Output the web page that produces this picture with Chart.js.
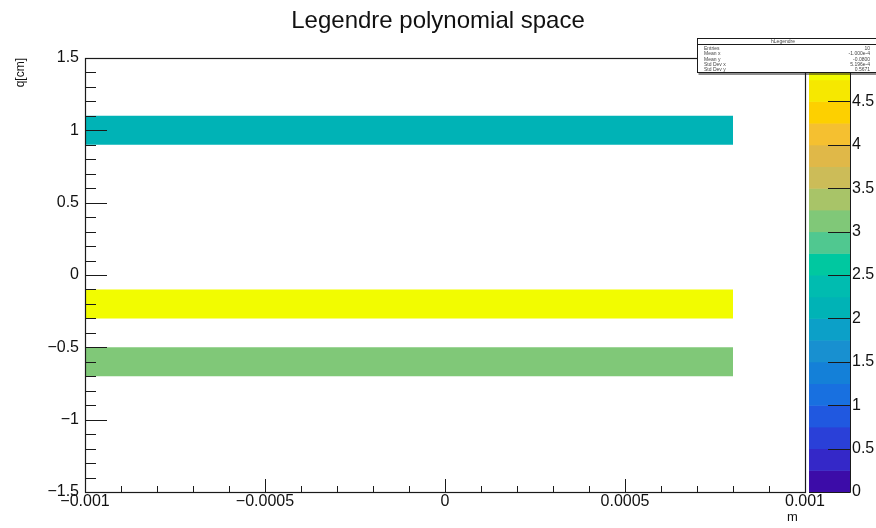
<!DOCTYPE html>
<html>
<head>
<meta charset="utf-8">
<script src="https://cdn.jsdelivr.net/npm/chart.js@4.4.1/dist/chart.umd.min.js"></script>
<style>
  html, body { margin: 0; padding: 0; background: #ffffff; }
  #wrap { width: 876px; height: 528px; }
</style>
</head>
<body>
<div id="wrap"><canvas id="c" width="876" height="528"></canvas></div>
<script>
// Filled q-bins of the 2D histogram (bin edges in q, extent in m, bin content)
const qLow     = [0.9, -0.3, -0.7];
const qHigh    = [1.1, -0.1, -0.5];
const mStart   = [-0.001, -0.001, -0.001];
const mEnd     = [0.0008, 0.0008, 0.0008];
const binContent = [2, 5, 3];

// Axis ranges and labelled ticks
const mRange = [-0.001, 0.001];
const qRange = [-1.5, 1.5];
const zRange = [0, 5];
const mTicks = [-0.001, -0.0005, 0, 0.0005, 0.001];
const qTicks = [-1.5, -1, -0.5, 0, 0.5, 1, 1.5];
const zTicks = [0, 0.5, 1, 1.5, 2, 2.5, 3, 3.5, 4, 4.5, 5];

// Colour palette (20 contour levels, low to high)
const nContours = 20;
const palette = [
  '#3c0ca8', '#3428c8', '#2a40d8', '#2058e0', '#1870e0',
  '#1480d8', '#1890d0', '#0ca0c8', '#00b3b6', '#00bcb0',
  '#00c8a0', '#50c890', '#80c878', '#a8c468', '#ccbc58',
  '#e0b848', '#f5c030', '#fdd000', '#f6e800', '#f2fc00'
];

const FONT = "'Liberation Sans', Arial, Helvetica, sans-serif";

function colourFor(v) {
  const idx = Math.floor(0.01 + (v - zRange[0]) / (zRange[1] - zRange[0]) * nContours);
  return palette[Math.max(0, Math.min(nContours - 1, idx))];
}
function fmt(v) {
  return String(v).replace('-', '\u2212');
}

// Each filled band is a flat line at the upper q edge, filled down to the lower edge
const datasets = qLow.map((lo, i) => ({
  label: 'bin ' + i,
  data: [{ x: mStart[i], y: qHigh[i] }, { x: mEnd[i], y: qHigh[i] }],
  showLine: true,
  fill: { value: lo },
  backgroundColor: colourFor(binContent[i]),
  borderColor: 'rgba(0,0,0,0)',
  borderWidth: 0,
  pointRadius: 0,
  pointHoverRadius: 0,
  tension: 0
}));

// Frame, inner tick marks, colour bar and statistics box
const histPainter = {
  id: 'histPainter',
  afterDatasetsDraw(chart) {
    const ctx = chart.ctx;
    const { left, right, top, bottom } = chart.chartArea;
    const xs = chart.scales.x, ys = chart.scales.y, zs = chart.scales.z;
    ctx.save();
    ctx.strokeStyle = '#1a1a1a';
    ctx.lineWidth = 1;
    ctx.beginPath();
    // q axis: major every 0.5, minor every 0.1
    for (let k = -15; k <= 15; k++) {
      const py = Math.round(ys.getPixelForValue(k / 10)) + 0.5;
      const len = (k % 5 === 0) ? 22 : 11;
      ctx.moveTo(left, py); ctx.lineTo(left + len, py);
    }
    // m axis: major every 0.0005, minor every 0.0001
    for (let k = -10; k <= 10; k++) {
      const px = Math.round(xs.getPixelForValue(k / 10000)) + 0.5;
      const len = (k % 5 === 0) ? 13 : 6;
      ctx.moveTo(px, bottom); ctx.lineTo(px, bottom - len);
    }
    ctx.stroke();
    ctx.lineWidth = 1.2;
    ctx.strokeRect(Math.round(left) + 0.5, Math.round(top) + 0.5,
                   Math.round(right - left), Math.round(bottom - top));

    // colour bar
    const barL = right + 4, barR = right + 45;
    for (let i = 0; i < nContours; i++) {
      const z0 = zRange[0] + (zRange[1] - zRange[0]) * i / nContours;
      const z1 = zRange[0] + (zRange[1] - zRange[0]) * (i + 1) / nContours;
      const y0 = zs.getPixelForValue(z0), y1 = zs.getPixelForValue(z1);
      ctx.fillStyle = palette[i];
      ctx.fillRect(barL, y1, barR - barL, y0 - y1 + 0.5);
    }
    ctx.lineWidth = 1;
    ctx.strokeStyle = '#1a1a1a';
    ctx.beginPath();
    ctx.moveTo(barR + 0.5, zs.getPixelForValue(zRange[1]));
    ctx.lineTo(barR + 0.5, zs.getPixelForValue(zRange[0]) + 0.5);
    ctx.lineTo(barL, zs.getPixelForValue(zRange[0]) + 0.5);
    zTicks.forEach(v => {
      const py = Math.round(zs.getPixelForValue(v)) + 0.5;
      ctx.moveTo(barR, py); ctx.lineTo(barR - 22, py);
    });
    ctx.stroke();
    ctx.restore();
  },
  afterDraw(chart) {
    const ctx = chart.ctx;
    // statistics box
    let sw = 0, sx = 0, sy = 0, sxx = 0, syy = 0;
    binContent.forEach((w, i) => {
      const cx = (mStart[i] + mEnd[i]) / 2, cy = (qLow[i] + qHigh[i]) / 2;
      const hw = mEnd[i] - mStart[i];
      sw += w; sx += w * cx; sy += w * cy;
      sxx += w * (cx * cx + hw * hw / 12); syy += w * cy * cy;
    });
    const mx = sx / sw, my = sy / sw;
    const rows = [
      ['Entries', String(sw)],
      ['Mean x', mx.toExponential(3)],
      ['Mean y', my.toFixed(4)],
      ['Std Dev x', Math.sqrt(sxx / sw - mx * mx).toExponential(3)],
      ['Std Dev y', Math.sqrt(syy / sw - my * my).toFixed(4)]
    ];
    const bx = 697.5, by = 38.5, bw = 190, bh = 34;
    ctx.save();
    ctx.fillStyle = '#ffffff';
    ctx.fillRect(bx, by, bw, bh);
    ctx.strokeStyle = '#1a1a1a';
    ctx.lineWidth = 1;
    ctx.strokeRect(bx, by, bw, bh);
    ctx.beginPath();
    ctx.moveTo(bx, by + 6); ctx.lineTo(bx + bw, by + 6);
    ctx.moveTo(bx + 1, by + bh + 1.5); ctx.lineTo(bx + bw, by + bh + 1.5);
    ctx.stroke();
    ctx.fillStyle = '#444';
    ctx.font = '5px ' + FONT;
    ctx.textBaseline = 'middle';
    ctx.textAlign = 'center';
    ctx.fillText('hLegendre', 783, by + 3);
    rows.forEach((r, i) => {
      const ty = by + 10 + i * 5.4;
      ctx.textAlign = 'left';
      ctx.fillText(r[0], 704, ty);
      ctx.textAlign = 'right';
      ctx.fillText(r[1], 870, ty);
    });
    ctx.restore();
  }
};

const tickFont = { family: FONT, size: 16 };

new Chart(document.getElementById('c'), {
  type: 'scatter',
  data: { datasets },
  options: {
    responsive: false,
    animation: false,
    devicePixelRatio: 1,
    layout: { padding: 0 },
    plugins: {
      legend: { display: false },
      tooltip: { enabled: false },
      title: {
        display: true,
        text: 'Legendre polynomial space',
        color: '#111',
        font: { family: FONT, size: 24, weight: 'normal', lineHeight: 1.2 },
        padding: { top: 7, bottom: 22.2 }
      }
    },
    scales: {
      x: {
        type: 'linear', position: 'bottom',
        min: mRange[0], max: mRange[1],
        afterBuildTicks: s => { s.ticks = mTicks.map(v => ({ value: v })); },
        ticks: { font: tickFont, color: '#111', padding: 0, maxRotation: 0, autoSkip: false, callback: v => fmt(v) },
        grid: { display: false, drawTicks: false },
        border: { display: false },
        title: { display: true, text: 'm  ', align: 'end', color: '#111',
                 font: { family: FONT, size: 13 }, padding: { top: 0, bottom: 3 } },
        afterFit: s => { s.height = 36; }
      },
      y: {
        type: 'linear', position: 'left',
        min: qRange[0], max: qRange[1],
        afterBuildTicks: s => { s.ticks = qTicks.map(v => ({ value: v })); },
        ticks: { font: tickFont, color: '#111', padding: 0, autoSkip: false, callback: v => fmt(v) },
        grid: { display: false, drawTicks: true, tickLength: 6 },
        border: { display: false },
        title: { display: true, text: 'q[cm]', align: 'end', color: '#111',
                 font: { family: FONT, size: 12 }, padding: { top: 13, bottom: 0 } },
        afterFit: s => { s.width = 85; }
      },
      z: {
        type: 'linear', position: 'right',
        min: zRange[0], max: zRange[1],
        afterBuildTicks: s => { s.ticks = zTicks.map(v => ({ value: v })); },
        ticks: { font: tickFont, color: '#111', padding: 0, autoSkip: false, callback: v => fmt(v) },
        grid: { display: false, drawTicks: true, tickLength: 47 },
        border: { display: false },
        afterFit: s => { s.width = 71; }
      }
    }
  },
  plugins: [histPainter]
});
</script>
</body>
</html>
